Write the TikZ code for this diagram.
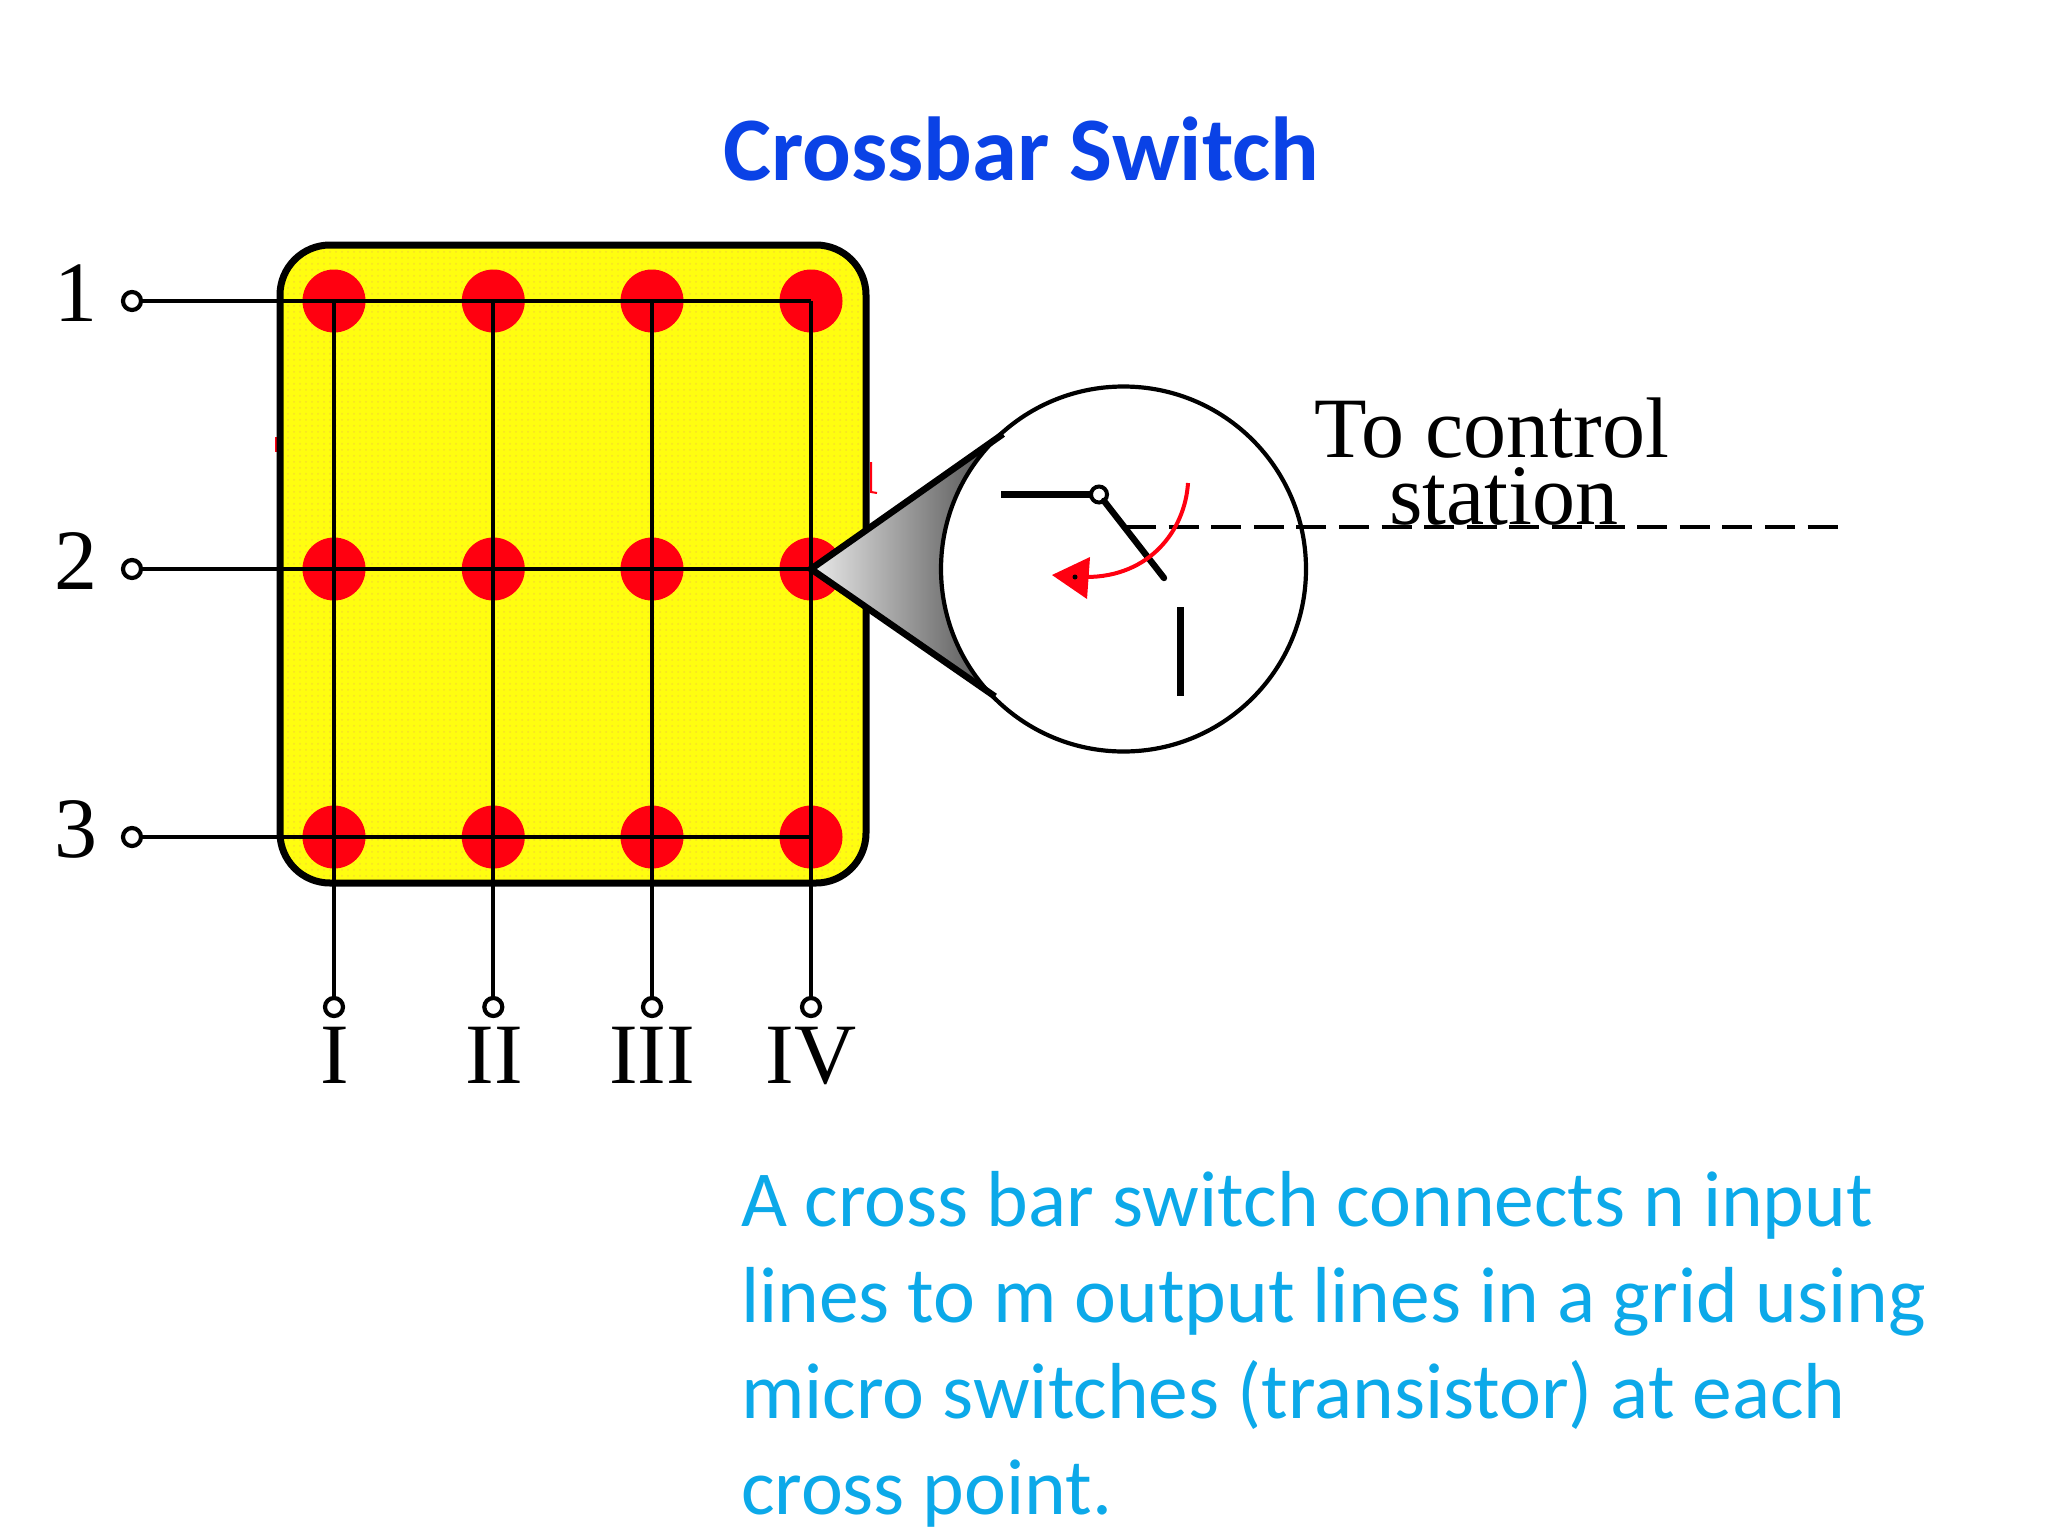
\documentclass[tikz,border=0pt]{standalone}
\usepackage{fontspec}
\setmainfont{Liberation Serif}
\newfontfamily\bodyfont{Carlito}
\usetikzlibrary{shadings,patterns}
\definecolor{boxyellow}{HTML}{FFFD10}
\definecolor{boxdot}{HTML}{F6E028}
\definecolor{dotred}{HTML}{FF0010}
\definecolor{titleblue}{HTML}{0A42E6}
\definecolor{bodyblue}{HTML}{0CA9E9}
\tikzset{
  x=0.5pt,y=-0.5pt,
  lab/.style={inner sep=0pt,outer sep=0pt,anchor=base,font=\fontsize{43}{43}\selectfont,text=black},
  para/.style={inner sep=0pt,outer sep=0pt,anchor=base west,font=\bodyfont\fontsize{39.7}{48}\selectfont,text=bodyblue},
  xdot/.style={circle,fill=dotred,draw=none,minimum size=31.5pt,inner sep=0pt,outer sep=0pt},
  term/.style={circle,fill=white,draw=black,line width=2.1pt,minimum size=9pt,inner sep=0pt,outer sep=0pt},
  wire/.style={draw=black,line width=2pt},
  thickline/.style={draw=black,line width=3.5pt},
  redstroke/.style={draw=dotred,line width=2pt},
}
\begin{document}
\begin{tikzpicture}
\useasboundingbox[fill=white] (0,0) rectangle (2048,1536);
% stray red marks behind the box
\draw[draw=dotred,line width=1pt] (276,437) -- (276,452);
\draw[draw=dotred,line width=1pt] (871,462) -- (871,492) -- (877,493);
% board
\node[draw=black,preaction={fill=boxyellow},preaction={pattern=dots,pattern color=boxdot},line width=3.5pt,rounded corners=25pt,minimum width=293pt,minimum height=319pt,inner sep=0pt,outer sep=0pt] (board) at (573,564) {};
% crosspoints
\foreach \r/\y in {1/301,2/569,3/837}
  \foreach \c/\x in {1/334,2/493.3,3/652,4/811}
    \node[xdot] (d\r\c) at (\x,\y) {};
% terminals
\foreach \r/\y in {1/301,2/569,3/837}
  \node[term] (t\r) at (132,\y) {};
\foreach \c/\x in {1/334,2/493.3,3/652,4/811}
  \node[term] (b\c) at (\x,1007) {};
% wires
\foreach \r in {1,2,3} \draw[wire] (t\r) -- (d\r4.center);
\foreach \c in {1,2,3,4} \draw[wire] (d1\c.center) -- (b\c);
% row and column labels
\node[lab] (l1) at (76,321) {1};
\node[lab] (l2) at (76,589) {2};
\node[lab] (l3) at (76,857) {3};
\node[lab] (c1) at (335,1083) {I};
\node[lab] (c2) at (494,1083) {II};
\node[lab] (c3) at (652,1083) {III};
\node[lab] (c4) at (811,1083) {IV};
% magnifier
\coordinate (apex) at (811,569);
\coordinate (lens) at (1123.5,569);
\coordinate (tanA) at (1003,434);
\coordinate (tanB) at (995,696.5);
\shade[left color=white!92!black,right color=black!72] (apex) -- (tanA) arc[start angle=228.3,end angle=135.2,radius=182.5] -- cycle;
\node[circle,draw=black,fill=white,line width=2.1pt,minimum size=182.5pt,inner sep=0pt,outer sep=0pt] (glass) at (lens) {};
\draw[draw=black,line width=3.3pt,line join=miter] (tanA) -- (apex) -- (tanB);
% control line
\coordinate (ctrlA) at (1126,527);
\coordinate (ctrlB) at (1840,527);
\draw[draw=black,line width=2pt,dash pattern=on 15pt off 6.3pt] (ctrlA) -- (ctrlB);
% switch
\node[circle,fill=white,draw=black,line width=2pt,minimum size=8pt,inner sep=0pt,outer sep=0pt] (pivot) at (1099,494.5) {};
\coordinate (leadL) at (1001,494.5);
\coordinate (armEnd) at (1164,578);
\coordinate (barT) at (1180,607);
\coordinate (barB) at (1180,696);
\draw[thickline] (leadL) -- (pivot);
\draw[thickline,line width=3.2pt,line cap=round] (pivot) -- (armEnd);
\draw[thickline] (barT) -- (barB);
% red arrow
\coordinate (arcS) at (1188,483);
\coordinate (arcE) at (1086,577);
\draw[redstroke] (arcS) .. controls (1185,530) and (1150,577) .. (arcE);
\fill[dotred] (1052,575) -- (1090,557) -- (1087,599) -- cycle;
\fill[black] (1075,577) circle[radius=2.5];
% text
\node[lab] (ts1) at (1492,457) {To control};
\node[lab] (ts2) at (1504,524) {station};
\node[inner sep=0pt,outer sep=0pt,anchor=base,font=\bodyfont\bfseries\fontsize{45.4}{45}\selectfont,text=titleblue] (title) at (1021,180) {Crossbar Switch};
\node[para] (p1) at (741,1226.5) {A cross bar switch connects n input};
\node[para] (p2) at (741,1322.5) {lines to m output lines in a grid using};
\node[para] (p3) at (741,1418.5) {micro switches (transistor) at each};
\node[para] (p4) at (741,1514.5) {cross point.};
\end{tikzpicture}
\end{document}
